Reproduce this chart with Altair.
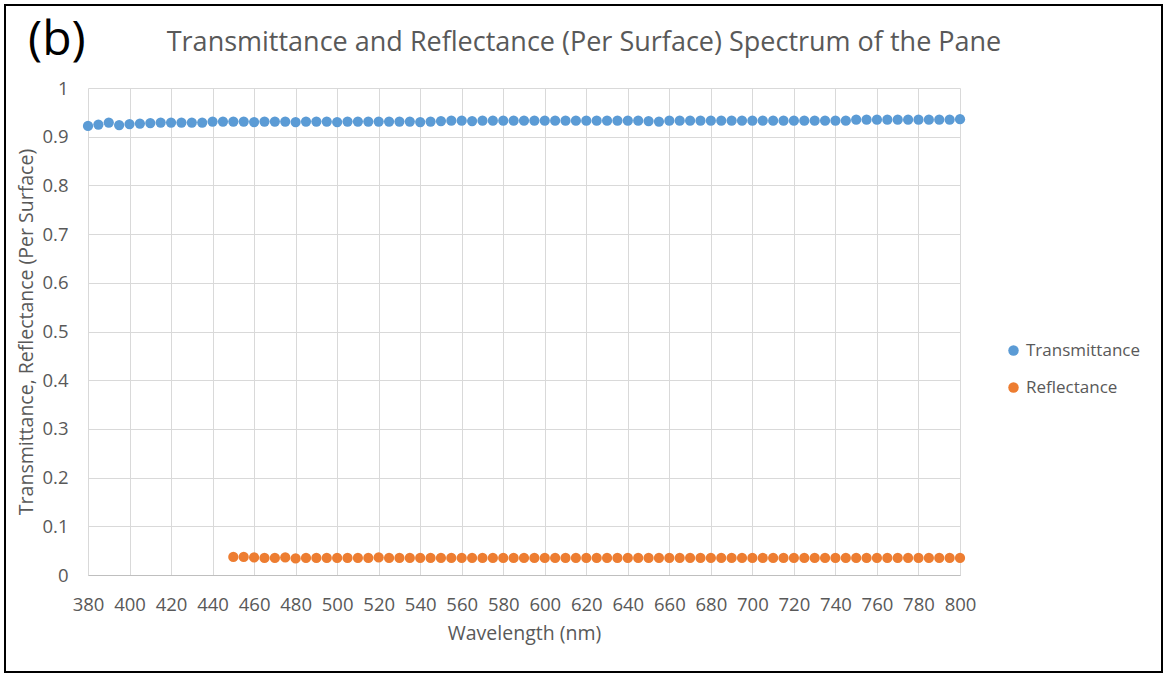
import altair as alt
import pandas as pd

wl_T = list(range(380, 805, 5))
T = [0.922, 0.925, 0.929, 0.924, 0.926, 0.927, 0.928, 0.929, 0.929, 0.929,
     0.929, 0.929, 0.931, 0.931, 0.931, 0.931, 0.930, 0.931, 0.931, 0.931,
     0.930, 0.931, 0.931, 0.931, 0.930, 0.931, 0.931, 0.931, 0.931, 0.931,
     0.931, 0.931, 0.930, 0.931, 0.932, 0.933, 0.933, 0.932, 0.933, 0.933,
     0.933, 0.933, 0.933, 0.933, 0.933, 0.933, 0.933, 0.933, 0.933, 0.933,
     0.933, 0.933, 0.933, 0.933, 0.932, 0.931, 0.933, 0.933, 0.933, 0.933,
     0.933, 0.933, 0.933, 0.933, 0.933, 0.933, 0.933, 0.933, 0.933, 0.933,
     0.933, 0.933, 0.933, 0.933, 0.935, 0.935, 0.935, 0.935, 0.935, 0.935,
     0.935, 0.935, 0.935, 0.935, 0.936]
wl_R = list(range(450, 805, 5))
R = [0.037, 0.037, 0.036, 0.035, 0.035, 0.036, 0.034, 0.035, 0.035, 0.035,
     0.035, 0.035, 0.035, 0.035, 0.036, 0.035, 0.035, 0.035, 0.035, 0.035,
     0.035, 0.035, 0.035, 0.035, 0.035, 0.035, 0.035, 0.035, 0.035, 0.035,
     0.035, 0.035, 0.035, 0.035, 0.035, 0.035, 0.035, 0.035, 0.035, 0.035,
     0.035, 0.035, 0.035, 0.035, 0.035, 0.035, 0.035, 0.035, 0.035, 0.035,
     0.035, 0.035, 0.035, 0.035, 0.035, 0.035, 0.035, 0.035, 0.035, 0.035,
     0.035, 0.035, 0.035, 0.035, 0.035, 0.035, 0.035, 0.035, 0.035, 0.035,
     0.035]
series = ["Transmittance", "Reflectance"]
colors = ["#5b9bd5", "#ed7d31"]
x_ticks = list(range(380, 801, 20))
y_ticks = [round(i * 0.1, 1) for i in range(11)]
title_text = "Transmittance and Reflectance (Per Surface) Spectrum of the Pane"
panel_label = "(b)"

df = pd.concat([
    pd.DataFrame({"wl": wl_T, "v": T, "s": series[0]}),
    pd.DataFrame({"wl": wl_R, "v": R, "s": series[1]}),
])

FONT = "Open Sans"
GRAY = "#595959"

W, H = 872, 487

points = alt.Chart(df).mark_circle(size=105, opacity=1).encode(
    x=alt.X("wl:Q", scale=alt.Scale(domain=[380, 800], nice=False, zero=False),
            axis=alt.Axis(values=x_ticks, title="Wavelength (nm)", ticks=False,
                          labelFlush=False, labelOverlap=False,
                          labelPadding=20, titlePadding=11, grid=True,
                          gridColor="#d9d9d9", domainColor="#bfbfbf",
                          labelFontSize=18.5, titleFontSize=19.5,
                          labelColor=GRAY, titleColor=GRAY,
                          titleFontWeight="normal", labelFont=FONT, titleFont=FONT)),
    y=alt.Y("v:Q", scale=alt.Scale(domain=[0, 1], nice=False),
            axis=alt.Axis(values=y_ticks, format="~g", title="Transmittance, Reflectance (Per Surface)",
                          ticks=False, labelPadding=20, titlePadding=5, grid=True,
                          labelFlush=False, labelOverlap=False,
                          gridColor="#d9d9d9", domain=False,
                          labelFontSize=18.5, titleFontSize=19.5,
                          labelColor=GRAY, titleColor=GRAY,
                          titleFontWeight="normal", labelFont=FONT, titleFont=FONT)),
    color=alt.Color("s:N", scale=alt.Scale(domain=series, range=colors),
                    legend=alt.Legend(title=None, orient="none", legendX=917, legendY=254,
                                      symbolType="circle", symbolSize=110,
                                      labelFontSize=17, labelColor=GRAY, labelFont=FONT,
                                      rowPadding=19, labelOffset=4)),
)

title = alt.Chart(pd.DataFrame({"t": [title_text]})).mark_text(
    fontSize=27, font=FONT, color=GRAY, baseline="middle", align="center"
).encode(text="t:N", x=alt.value(496), y=alt.value(-45))

label = alt.Chart(pd.DataFrame({"t": [panel_label]})).mark_text(
    fontSize=48, font=FONT, color="black", baseline="middle", align="left"
).encode(text="t:N", x=alt.value(-60), y=alt.value(-47))

border = alt.Chart(pd.DataFrame({"a": [0]})).mark_rect(
    fillOpacity=0, stroke="black", strokeWidth=2
).encode(x=alt.value(-83), x2=alt.value(1074), y=alt.value(-83), y2=alt.value(584))

chart = alt.layer(points, title, label, border).properties(
    width=W, height=H,
    autosize=alt.AutoSizeParams(type="none"),
    padding={"left": 88, "top": 88, "right": 207, "bottom": 102},
    background="white",
).configure_view(stroke=None)

chart.save("out.html", embed_options={"renderer": "svg", "actions": False})
